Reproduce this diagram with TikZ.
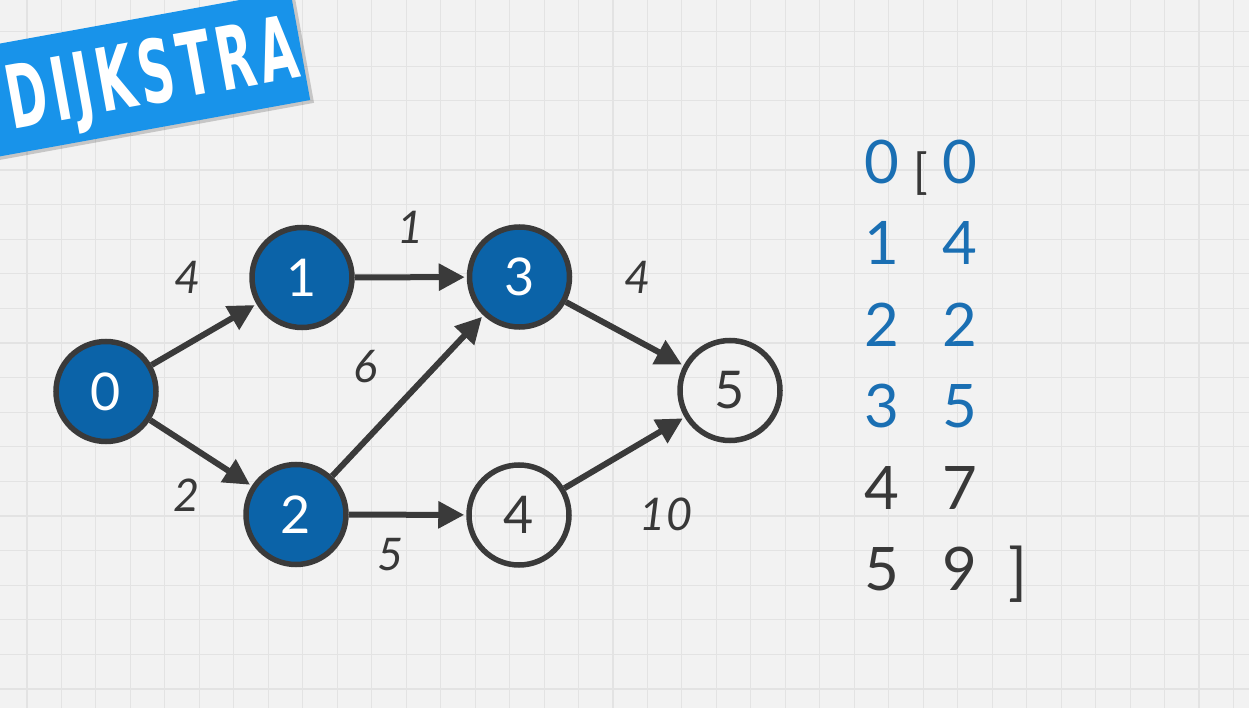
\documentclass[tikz,border=0pt]{standalone}
\usepackage{fontspec}
\setmainfont{Lato}
\newfontfamily\bannerfont{DejaVu Sans Condensed}[LetterSpace=9]
\usetikzlibrary{arrows.meta}
\definecolor{bg}{HTML}{F2F2F2}
\definecolor{gridc}{HTML}{E3E3E3}
\definecolor{nodeblue}{HTML}{0B63A8}
\definecolor{ringc}{HTML}{3A3A3A}
\definecolor{tblue}{HTML}{1A6FB3}
\definecolor{tdark}{HTML}{383838}
\definecolor{bannerc}{HTML}{1893EA}
\tikzset{
  vert/.style={circle, draw=ringc, line width=5.5pt, minimum size=100pt, inner sep=0pt,
    font=\fontsize{52}{52}\selectfont},
  donev/.style={vert, fill=nodeblue, text=white},
  todov/.style={vert, fill=none, text=tdark},
  conn/.style={draw=ringc, line width=6pt, -{Triangle[length=26pt,width=26pt]}, shorten >=2pt},
  wlabel/.style={text=tdark, inner sep=0pt, font=\fontsize{45}{45}\selectfont\itshape},
  tcell/.style={inner sep=0pt, font=\fontsize{60}{60}\selectfont},
  bracket/.style={text=tdark, inner sep=0pt},
  bannertext/.style={rotate=10.3, inner sep=0pt, text depth=0pt},
}
\begin{document}
\begin{tikzpicture}[x=1pt,y=-1pt]
\useasboundingbox (0,0) rectangle (1249,708);
\begin{scope}
\clip (0,0) rectangle (1249,708);
% background and grid
\fill[bg] (0,0) rectangle (1249,708);
\foreach \i in {0,...,36} \draw[gridc, line width=1.1pt] ({27+34.47*\i},0) -- ++(0,708);
\foreach \j in {0,...,20} \draw[gridc, line width=1.1pt] (0,{31.6+34.6*\j}) -- ++(1249,0);
% banner
\begin{scope}[shift={(150,72.7)}, rotate=10.3]
  \fill[black, opacity=0.18] (-250,-52) rectangle (156,59);
  \fill[bannerc] (-250,-55.5) rectangle (152.7,55.5);
\end{scope}
\node[bannertext, text=white] (title) at (151,71) {\resizebox{294pt}{65pt}{\bannerfont\bfseries DIJKSTRA}};
% graph nodes
\node[donev] (n0) at (106,391.5) {0};
\node[donev] (n1) at (302,277.5) {1};
\node[donev] (n2) at (296,514.5) {2};
\node[donev] (n3) at (519.5,277) {3};
\node[todov] (n4) at (519,515) {4};
\node[todov] (n5) at (730,390.5) {5};
% connectors
\draw[conn] (n0) -- (n1);
\draw[conn] (n0) -- (n2);
\draw[conn] (n1) -- (n3);
\draw[conn] (n2) -- (n3);
\draw[conn] (n2) -- (n4);
\draw[conn] (n3) -- (n5);
\draw[conn] (n4) -- (n5);
% weights
\node[wlabel] (w01) at (187.5,277) {4};
\node[wlabel] (w13) at (411,227) {1};
\node[wlabel] (w23) at (365,367) {6};
\node[wlabel] (w02) at (187,495) {2};
\node[wlabel] (w24) at (391,555) {5};
\node[wlabel] (w35) at (638,277) {4};
\node[wlabel] (w45) at (666,514) {10};
% distance table
\node[tcell, text=tblue] (k0) at (882,162) {0};
\node[tcell, text=tblue] (k1) at (882,243.4) {1};
\node[tcell, text=tblue] (k2) at (882,324.8) {2};
\node[tcell, text=tblue] (k3) at (882,406.2) {3};
\node[tcell, text=tdark] (k4) at (882,487.6) {4};
\node[tcell, text=tdark] (k5) at (882,569) {5};
\node[tcell, text=tblue] (d0) at (960,162) {0};
\node[tcell, text=tblue] (d1) at (960,243.4) {4};
\node[tcell, text=tblue] (d2) at (960,324.8) {2};
\node[tcell, text=tblue] (d3) at (960,406.2) {5};
\node[tcell, text=tdark] (d4) at (960,487.6) {7};
\node[tcell, text=tdark] (d5) at (960,569) {9};
\node[bracket, font=\fontsize{48}{48}\selectfont] (lbr) at (920.5,174) {[};
\node[bracket, font=\fontsize{62}{62}\selectfont] (rbr) at (1018,574) {]};
\end{scope}
\end{tikzpicture}
\end{document}
